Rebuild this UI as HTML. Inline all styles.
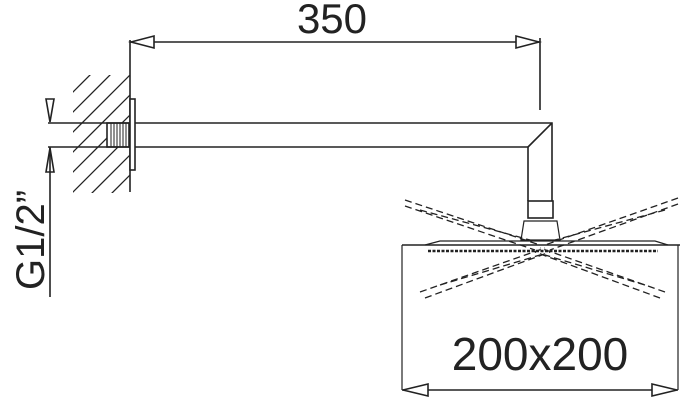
<!DOCTYPE html>
<html><head><style>html,body{margin:0;padding:0;background:#fff}svg{display:block}</style></head>
<body>
<svg width="682" height="400" viewBox="0 0 682 400" xmlns="http://www.w3.org/2000/svg" font-family="'Liberation Sans', sans-serif">
<g stroke="#222" stroke-width="1.6" fill="none">
<!-- top dimension -->
<line x1="130" y1="42" x2="540" y2="42"/>
<polygon points="131,42 154,36 154,48" fill="#fff"/>
<polygon points="539,42 516,36 516,48" fill="#fff"/>
<line x1="130" y1="40" x2="130" y2="192"/>
<line x1="540" y1="38" x2="540" y2="110"/>
<!-- hatch -->
<clipPath id="c"><rect x="73" y="75" width="57" height="118"/></clipPath>
<g clip-path="url(#c)" stroke-width="1.3">
<line x1="60" y1="105" x2="110" y2="55"/><line x1="60" y1="125" x2="130" y2="55"/>
<line x1="60" y1="145" x2="140" y2="65"/><line x1="60" y1="165" x2="140" y2="85"/>
<line x1="60" y1="185" x2="140" y2="105"/><line x1="60" y1="205" x2="140" y2="125"/>
<line x1="70" y1="215" x2="140" y2="145"/><line x1="90" y1="215" x2="140" y2="165"/>
<line x1="110" y1="215" x2="140" y2="185"/>
</g>
<rect x="107" y="123" width="22" height="24" fill="#fff"/>
<g stroke-width="1"><line x1="111" y1="123" x2="111" y2="147"/><line x1="114" y1="123" x2="114" y2="147"/><line x1="117" y1="123" x2="117" y2="147"/><line x1="120" y1="123" x2="120" y2="147"/><line x1="123" y1="123" x2="123" y2="147"/><line x1="126" y1="123" x2="126" y2="147"/></g>
<rect x="130" y="99" width="5" height="71" fill="#fff"/>
<!-- pipe -->
<polyline points="135,123 552,123 552,201"/>
<polyline points="135,147 528,147 528,201"/>
<line x1="552" y1="123" x2="528" y2="147"/>
<rect x="528" y="201" width="25" height="17"/>
<path d="M524 221 L557 221 L560 240 L521 240 Z" stroke-width="1.2"/>
<!-- left dimension -->
<line x1="48" y1="123" x2="130" y2="123"/>
<line x1="48" y1="147" x2="130" y2="147"/>
<polygon points="50,122 46,99 54,99" fill="#fff"/>
<polygon points="50,148 46,172 54,172" fill="#fff"/>
<line x1="50" y1="147" x2="50" y2="297"/>
<!-- shower head -->
<line x1="402" y1="245" x2="680" y2="245"/>
<path d="M425 245 L440 241 L655 241 L668 245" stroke-width="1.2"/>
<line x1="428" y1="251" x2="658" y2="251" stroke-width="2.5" stroke-dasharray="3,1.5"/>
<line x1="402" y1="245" x2="402" y2="390" stroke-width="1.2"/>
<line x1="678" y1="245" x2="678" y2="390" stroke-width="1.2"/>
<line x1="402" y1="390" x2="678" y2="390"/>
<polygon points="403,390 428,384 428,396" fill="#fff"/>
<polygon points="677,390 652,384 652,396" fill="#fff"/>
<!-- dashed tilted heads -->
<g stroke-dasharray="7,4" stroke-width="1.3">
<line x1="405" y1="200" x2="540" y2="245"/><line x1="405" y1="206" x2="535" y2="250"/>
<line x1="420" y1="210" x2="530" y2="240"/>
<line x1="678" y1="198" x2="545" y2="245"/><line x1="678" y1="204" x2="550" y2="250"/>
<line x1="665" y1="210" x2="555" y2="240"/>
<line x1="420" y1="292" x2="545" y2="248"/><line x1="425" y1="298" x2="550" y2="252"/>
<line x1="440" y1="285" x2="540" y2="255"/>
<line x1="665" y1="292" x2="540" y2="248"/><line x1="660" y1="298" x2="535" y2="252"/>
<line x1="645" y1="285" x2="545" y2="255"/>
</g>
</g>
<text x="332" y="33" font-size="42" text-anchor="middle" fill="#222">350</text>
<text x="540" y="370" font-size="46" text-anchor="middle" fill="#222">200x200</text>
<text transform="translate(44,240) rotate(-90)" font-size="40" text-anchor="middle" fill="#222">G1/2”</text>
</svg>
</body></html>
